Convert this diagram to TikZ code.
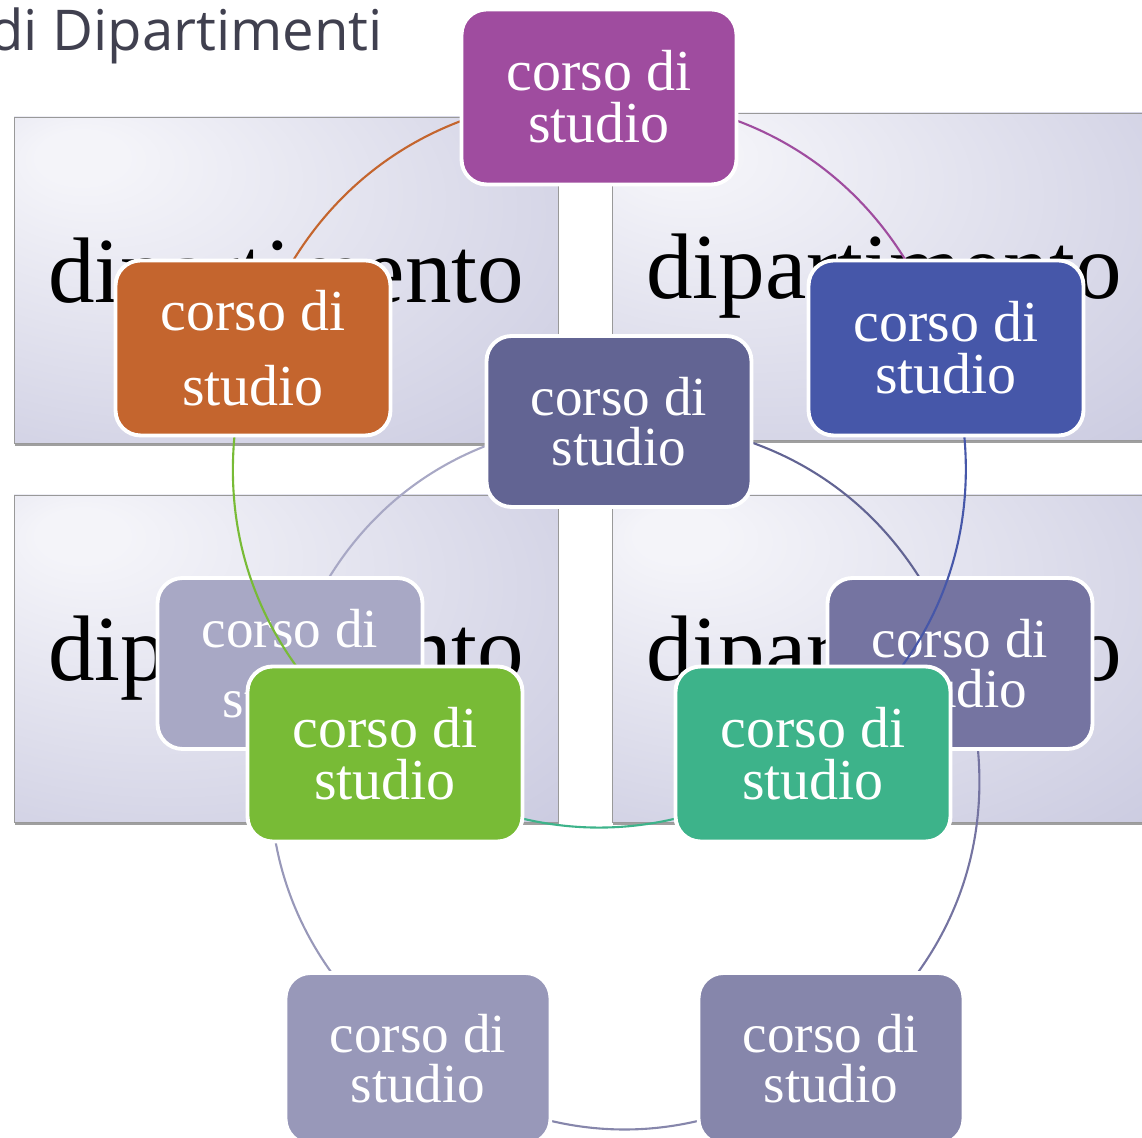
\documentclass[tikz,border=0pt]{standalone}
\usepackage{fontspec}
\setmainfont{Liberation Serif}
\newfontfamily\titlefont{Open Sans}
\usepackage{tikz}
\definecolor{titlegray}{HTML}{40404F}
\definecolor{deptlight}{HTML}{F4F4F9}
\definecolor{deptdark}{HTML}{C2C2DB}
\definecolor{cpurple}{HTML}{9F4C9F}
\definecolor{cblue}{HTML}{4657A9}
\definecolor{cteal}{HTML}{3DB38A}
\definecolor{cgreen}{HTML}{78BB36}
\definecolor{corange}{HTML}{C4652E}
\definecolor{bslate}{HTML}{626493}
\definecolor{bright}{HTML}{7574A1}
\definecolor{bbotr}{HTML}{8686AB}
\definecolor{bbotl}{HTML}{9898B9}
\definecolor{bleft}{HTML}{A8A8C5}
\pgfdeclareradialshading{deptshade}{\pgfpoint{-20bp}{20bp}}{color(0bp)=(deptlight); color(4bp)=(deptlight); color(55bp)=(deptdark); color(70bp)=(deptdark)}
\pgfdeclarelayer{background}
\pgfdeclarelayer{front}
\pgfsetlayers{background,main,front}
\tikzstyle{dept}=[shading=deptshade, draw=gray!80, line width=0.5pt]
\tikzstyle{deptshadow}=[fill=gray!75]
\tikzstyle{deptlabel}=[font=\fontsize{53}{60}\selectfont]
\tikzstyle{corso}=[rectangle, rounded corners=0.5cm, draw=white, line width=2.2pt, text=white, align=center, inner sep=0pt]
\tikzstyle{corsoa}=[corso, minimum width=5.5cm, minimum height=3.5cm, font=\fontsize{33}{29.5}\selectfont]
\tikzstyle{corsob}=[corso, minimum width=5.3cm, minimum height=3.42cm, font=\fontsize{31.4}{28.4}\selectfont]
\tikzstyle{ciclo}=[line width=1.2pt]

\begin{document}
\begin{tikzpicture}[x=0.02cm, y=0.02cm]
		   \useasboundingbox (0, 0) rectangle (1142, 1138);
		   \begin{pgfonlayer}{background}
			   \fill[deptshadow] (15, 692) rectangle (559, 1018);
			   \fill[deptshadow] (613, 695) rectangle (1157, 1022);
			   \fill[deptshadow] (15, 313) rectangle (559, 640);
			   \fill[deptshadow] (613, 313) rectangle (1157, 640);
			   \path[dept] (14, 695) rectangle (558, 1021);
			   \path[dept] (612, 698) rectangle (1156, 1025);
			   \path[dept] (14, 316) rectangle (558, 643);
			   \path[dept] (612, 316) rectangle (1156, 643);
			   \node (d1) at (286, 858)[deptlabel] {dipartimento};
			   \node (d2) at (884, 861.5)[deptlabel] {dipartimento};
			   \node (d3) at (286, 480)[deptlabel] {dipartimento};
			   \node (d4) at (884, 480)[deptlabel] {dipartimento};
		   \end{pgfonlayer}
		   \node (titolo) at (389, 1087)[anchor=base east, text=titlegray, font=\titlefont\fontsize{32}{40}\selectfont] {di Dipartimenti};
		   % inner cycle
		   \begin{scope}
			   \node (b1) at (619, 716.5)[corsob, fill=bslate] {corso di\\studio};
			   \node (b2) at (960, 474.5)[corsob, fill=bright] {corso di\\studio};
			   \node (b3) at (831, 79.5)[corsob, fill=bbotr] {corso di\\studio};
			   \node (b4) at (418, 79.5)[corsob, fill=bbotl] {corso di\\studio};
			   \node (b5) at (290, 474.5)[corsob, fill=bleft, font=\fontsize{31.4}{39.7}\selectfont] {corso di\\studio};
		   \end{scope}
		   \begin{pgfonlayer}{background}
			   \path [ciclo, draw=bslate] (b1.center) edge[bend left=36] (b2.center);
			   \path [ciclo, draw=bright] (b2.center) edge[bend left=36] (b3.center);
			   \path [ciclo, draw=bbotr] (b3.center) edge[bend left=36] (b4.center);
			   \path [ciclo, draw=bbotl] (b4.center) edge[bend left=36] (b5.center);
			   \path [ciclo, draw=bleft] (b5.center) edge[bend left=36] (b1.center);
		   \end{pgfonlayer}
		   % outer cycle
		   \begin{pgfonlayer}{front}
			   \node (a1) at (599, 1041)[corsoa, fill=cpurple] {corso di\\studio};
			   \node (a2) at (946, 790)[corsoa, fill=cblue] {corso di\\studio};
			   \node (a3) at (813, 384)[corsoa, fill=cteal] {corso di\\studio};
			   \node (a4) at (385, 384)[corsoa, fill=cgreen] {corso di\\studio};
			   \node (a5) at (253, 790)[corsoa, fill=corange, font=\fontsize{33}{42.5}\selectfont] {corso di\\studio};
		   \end{pgfonlayer}
		   \begin{scope}
			   \path [ciclo, draw=corange] (a5.center) edge[bend left=36] (a1.center);
			   \path [ciclo, draw=cpurple] (a1.center) edge[bend left=36] (a2.center);
			   \path [ciclo, draw=cblue] (a2.center) edge[bend left=36] (a3.center);
			   \path [ciclo, draw=cteal] (a3.center) edge[bend left=36] (a4.center);
			   \path [ciclo, draw=cgreen] (a4.center) edge[bend left=36] (a5.center);
		   \end{scope}
	   \end{tikzpicture}
\end{document}
